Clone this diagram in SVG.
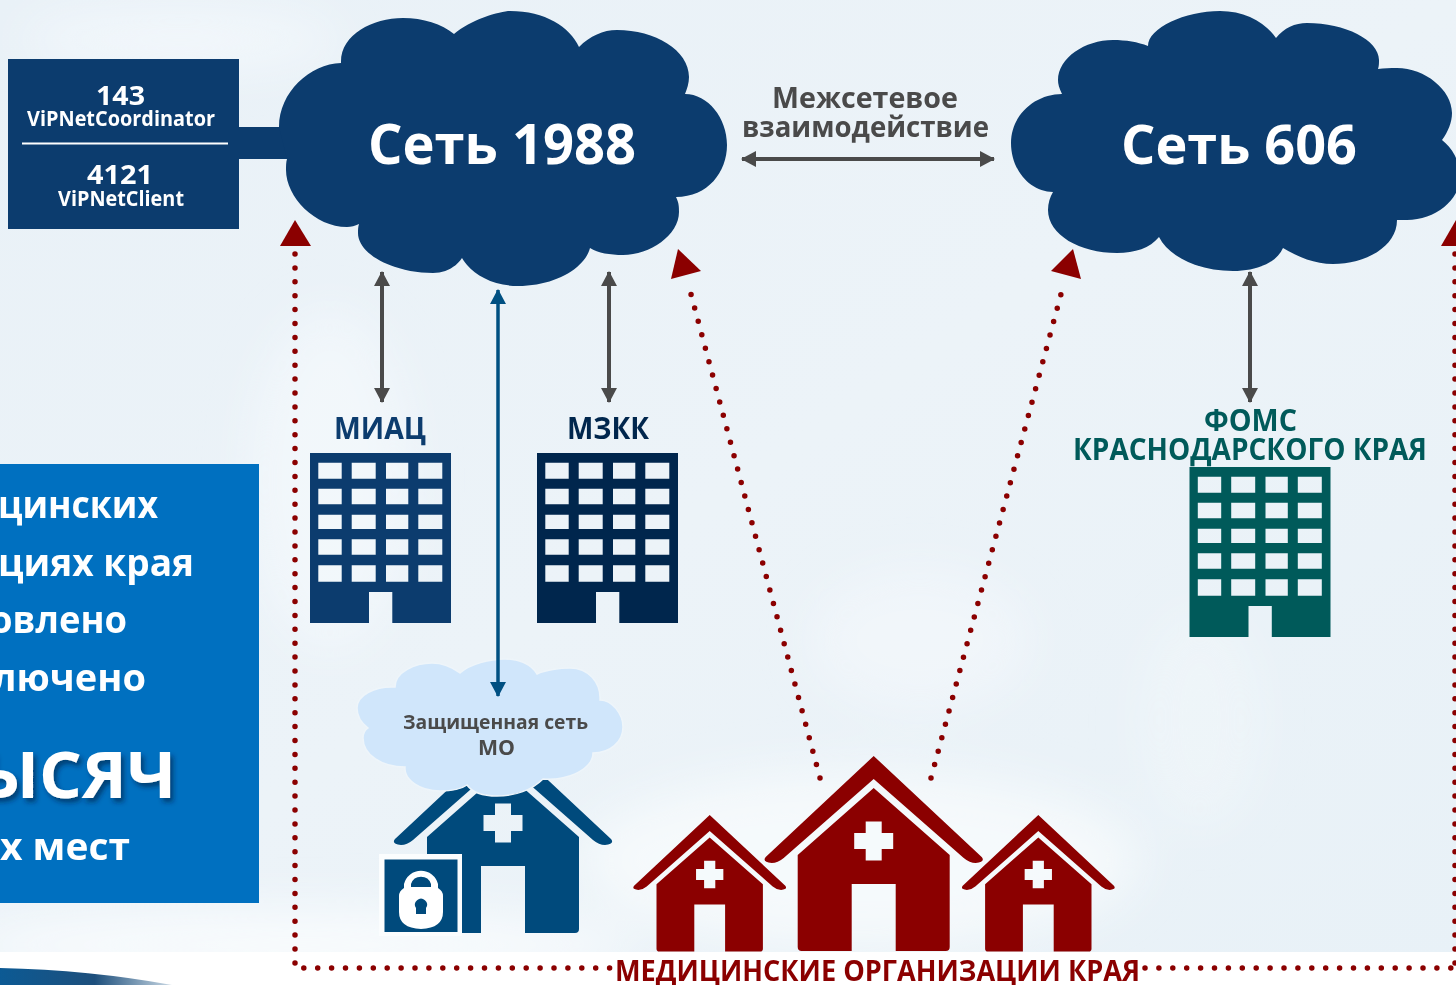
<svg xmlns="http://www.w3.org/2000/svg" width="1456" height="985" viewBox="0 0 1456 985">
<style>
text{font-family:"Open Sans","Noto Sans","Liberation Sans",sans-serif;font-weight:700}
.c{text-anchor:middle}
.w{fill:#fff}
.g{fill:#4a4a4a}
.navy{fill:#0c3c6e}
.red{fill:#8b0000}
.teal{fill:#005a5a}
.dot{fill:none;stroke:#8b0000;stroke-width:5.5;stroke-linecap:round;stroke-dasharray:0 13.9}
.dbl{fill:none;stroke:#4a4a4a;stroke-width:4;marker-start:url(#ga);marker-end:url(#ga)}
</style>
<defs>
<linearGradient id="bg" x1="0" y1="0" x2="1" y2="1"><stop offset="0" stop-color="#e9f1f7"/><stop offset=".5" stop-color="#ecf3f8"/><stop offset="1" stop-color="#e8f1f7"/></linearGradient>
<linearGradient id="sw" x1="0" x2="1" y1="0" y2="0"><stop offset="0" stop-color="#0c5a94"/><stop offset=".55" stop-color="#1d4f7c"/><stop offset="1" stop-color="#c9d8e4"/></linearGradient>
<filter id="b" x="-30%" y="-30%" width="160%" height="160%"><feGaussianBlur stdDeviation="24"/></filter>
<filter id="ts" x="-10%" y="-20%" width="125%" height="150%"><feDropShadow dx="3" dy="4" stdDeviation="2.500" flood-color="#06233f" flood-opacity=".6"/></filter>
<marker id="ga" markerUnits="userSpaceOnUse" markerWidth="17" markerHeight="16" refX="14" refY="8" orient="auto-start-reverse"><path d="M0,0L15,8L0,16z" fill="#4a4a4a"/></marker>
<marker id="ba" markerUnits="userSpaceOnUse" markerWidth="17" markerHeight="16" refX="14" refY="8" orient="auto-start-reverse"><path d="M0,0L15,8L0,16z" fill="#005082"/></marker>
<path id="bld" fill-rule="evenodd" d="M0,0H141V170H82.3V139H59V170H0Z
M8.3,9.7v16h23.4v-16zM41.7,9.7v16h24v-16zM76,9.7v16h22.3v-16zM108.3,9.7v16h24v-16z
M8.3,35.7v15.6h23.4v-15.6zM41.7,35.7v15.6h24v-15.6zM76,35.7v15.6h22.3v-15.6zM108.3,35.7v15.6h24v-15.6z
M8.3,61.7v14.3h23.4v-14.3zM41.7,61.7v14.3h24v-14.3zM76,61.7v14.3h22.3v-14.3zM108.3,61.7v14.3h24v-14.3z
M8.3,86.3v15.4h23.4v-15.4zM41.7,86.3v15.4h24v-15.4zM76,86.3v15.4h22.3v-15.4zM108.3,86.3v15.4h24v-15.4z
M8.3,112.3v16.4h23.4v-16.4zM41.7,112.3v16.4h24v-16.4zM76,112.3v16.4h22.3v-16.4zM108.3,112.3v16.4h24v-16.4z"/>
<path id="house" fill-rule="evenodd" d="M0,0L108,101Q112,106 102,107Q96,107 90,102L0,23L-90,102Q-96,107 -102,107Q-112,106 -108,101Z
M0,32L76,99V191Q76,195 72,195H22V128H-22V195H-72Q-76,195 -76,191V99Z
M-8,65.5V77H-19.5V93H-8V104.5H8V93H19.5V77H8V65.5Z"/>
</defs>
<g id="background">
<rect width="1456" height="985" fill="url(#bg)"/>
<g filter="url(#b)" fill="#f8fbfd">
<ellipse cx="860" cy="860" rx="280" ry="90" opacity=".8"/>
<ellipse cx="920" cy="640" rx="110" ry="70" opacity=".45"/>
<ellipse cx="330" cy="480" rx="80" ry="170" opacity=".55"/>
<ellipse cx="180" cy="40" rx="160" ry="30" opacity=".6"/>
<ellipse cx="300" cy="945" rx="340" ry="35"/>
<ellipse cx="1200" cy="720" rx="60" ry="110" opacity=".3"/>
</g>
<rect x="0" y="952" width="1456" height="33" fill="#fff"/>
<path d="M0,968Q90,970 172,985H0Z" fill="url(#sw)"/>
</g>
<g id="node-stats">
<rect x="8" y="59" width="231" height="170" fill="#0c3c6e"/>
<rect x="239" y="127" width="55" height="32" fill="#0c3c6e"/>
<path d="M22,143.500H228" stroke="#fff" stroke-width="2"/>
<text class="w c" x="120.500" y="105" font-size="27" textLength="49" lengthAdjust="spacingAndGlyphs">143</text>
<text class="w c" x="121" y="126" font-size="21" textLength="188" lengthAdjust="spacingAndGlyphs">ViPNetCoordinator</text>
<text class="w c" x="120" y="184" font-size="27" textLength="66" lengthAdjust="spacingAndGlyphs">4121</text>
<text class="w c" x="121" y="206" font-size="21" textLength="126" lengthAdjust="spacingAndGlyphs">ViPNetClient</text>
</g>
<g id="node-cloud-1988">
<path class="navy" d="M341,63C340,35 372,18 403,18C423,18 442,24 454,34C470,20 500,11 510,11C545,11 570,27 579,47C590,36 603,30 617,30C655,30 689,50 689,77C689,83 687,89 685,94C708,94 727,118 727,145C727,172 708,197 676,197C679,203 679,207 679,212C679,235 650,255 623,255C610,255 598,253 590,248C585,268 555,286 518,286C490,286 470,272 462,258C455,268 445,273 433,273C395,273 358,255 358,233C358,230 358,227 359,224C355,226 351,227 347,227C315,227 286,197 286,170C286,166 286,162 287,159L279,127C279,92 310,64 341,63Z"/>
<text class="w c" x="502" y="164" font-size="56" textLength="268" lengthAdjust="spacingAndGlyphs">Сеть 1988</text>
</g>
<g id="node-cloud-606">
<path class="navy" d="M1062,94C1059,88 1058,84 1058,80C1058,58 1085,40 1113,40C1126,40 1138,42 1148,46C1148,28 1185,11 1220,11C1245,11 1265,22 1276,38C1284,28 1295,23 1307,23C1345,23 1379,40 1379,60C1379,63 1379,66 1378,69C1384,68 1390,68 1397,68C1425,68 1452,90 1452,113C1452,122 1448,132 1442,140C1452,148 1460,160 1460,177C1460,200 1435,220 1407,220C1403,220 1400,220 1397,220C1397,247 1365,264 1333,264C1315,264 1298,257 1283,248C1277,262 1258,271 1233,271C1200,271 1170,258 1159,237C1150,248 1135,253 1117,253C1080,253 1048,235 1048,210C1048,203 1050,197 1053,192C1030,192 1011,170 1011,143C1011,115 1035,94 1062,94Z"/>
<text class="w c" x="1239" y="164" font-size="53" textLength="236" lengthAdjust="spacingAndGlyphs">Сеть 606</text>
</g>
<g id="label-link">
<text class="g c" x="865" y="108" font-size="29" textLength="186" lengthAdjust="spacingAndGlyphs">Межсетевое</text>
<text class="g c" x="865.500" y="137" font-size="29" textLength="247" lengthAdjust="spacingAndGlyphs">взаимодействие</text>
</g>
<g id="node-miac">
<text class="navy c" x="380" y="439" font-size="30" textLength="92" lengthAdjust="spacingAndGlyphs">МИАЦ</text>
<use href="#bld" x="310" y="453" fill="#0c3c6e"/>
</g>
<g id="node-mzkk">
<text class="c" fill="#00264d" x="608" y="439" font-size="30" textLength="82" lengthAdjust="spacingAndGlyphs">МЗКК</text>
<use href="#bld" x="537" y="453" fill="#00264d"/>
</g>
<g id="node-foms">
<text class="teal c" x="1250.500" y="431" font-size="30" textLength="93" lengthAdjust="spacingAndGlyphs">ФОМС</text>
<text class="teal c" x="1250" y="460" font-size="30" textLength="354" lengthAdjust="spacingAndGlyphs">КРАСНОДАРСКОГО КРАЯ</text>
<use href="#bld" x="1189.500" y="467" fill="#005a5a"/>
</g>
<g id="node-info">
<rect x="0" y="464" width="259" height="439" fill="#0070c0"/>
<text class="w" x="-2" y="518" font-size="38" textLength="160" lengthAdjust="spacingAndGlyphs">цинских</text>
<text class="w" x="-2" y="576" font-size="38" textLength="196" lengthAdjust="spacingAndGlyphs">циях края</text>
<text class="w" x="-10" y="633" font-size="38" textLength="137" lengthAdjust="spacingAndGlyphs">овлено</text>
<text class="w" x="-8" y="691" font-size="38" textLength="154" lengthAdjust="spacingAndGlyphs">лючено</text>
<text class="w" x="-22" y="798" font-size="64" textLength="198" lengthAdjust="spacingAndGlyphs" filter="url(#ts)">ЫСЯЧ</text>
<text class="w" x="0" y="860" font-size="38" textLength="130" lengthAdjust="spacingAndGlyphs">х мест</text>
</g>
<g id="node-mo">
<use href="#house" x="503" y="738" fill="#004a7c"/>
<rect x="379" y="854" width="83" height="82" fill="#fbfdfe"/>
<rect x="384.500" y="859.500" width="73" height="72.500" fill="#004a7c"/>
<path fill="#fff" fill-rule="evenodd" d="M404,888V884a17.500,17.500 0 0 1 34,0V888Q443,891 443,896V912Q443,928 421,929Q399,928 399,912V896Q399,891 404,888ZM411,887H431V884a10.500,10.500 0 0 0 -20,0ZM416,914H426V908A6,6 0 1 0 416,908Z"/>
<path fill="#d0e6fb" stroke="#eef5fa" stroke-width="1.500" d="M395,687C395,672 415,663 432,663C442,663 452,667 460,673C470,664 490,659 505,659C520,659 532,665 537,674C545,670 560,668 570,668C588,668 601,682 600,700C612,700 623,714 623,727C623,742 610,753 593,753C593,768 570,781 543,779C532,790 515,796 497,796C483,796 472,792 467,785C460,790 450,791 440,791C420,791 404,780 405,767C382,767 363,755 363,738C363,733 365,730 368,728C360,722 357,715 357,708C357,695 375,686 395,687Z"/>
<text class="g c" x="495.500" y="729" font-size="19" textLength="185" lengthAdjust="spacingAndGlyphs">Защищенная сеть</text>
<text class="g c" x="496.500" y="755" font-size="21" textLength="37" lengthAdjust="spacingAndGlyphs">МО</text>
</g>
<g id="node-hospitals" fill="#8b0000">
<use href="#house" x="873.700" y="756"/>
<use href="#house" transform="translate(709.700 815) scale(.7)"/>
<use href="#house" transform="translate(1038.300 815) scale(.7)"/>
<text class="red c" x="877.500" y="981" font-size="28" textLength="525" lengthAdjust="spacingAndGlyphs">МЕДИЦИНСКИЕ ОРГАНИЗАЦИИ КРАЯ</text>
</g>
<g id="connectors">
<path class="dot" d="M295,254V968H612"/>
<path class="dot" d="M1145,968H1456"/>
<path class="dot" d="M1455,254V968"/>
<path class="dot" d="M820,778L688,283"/>
<path class="dot" d="M931,778L1064,283"/>
<path class="red" d="M295,220L311,246H280Z"/>
<path class="red" d="M1456,220V246H1441Z"/>
<path class="red" d="M678,249L701,271L671,279Z"/>
<path class="red" d="M1073,249L1081,279L1051,271Z"/>
<path class="dbl" d="M382,272V402"/>
<path class="dbl" d="M609,272V402"/>
<path class="dbl" d="M1250,272V402"/>
<path class="dbl" d="M742,159H994"/>
<path d="M498,290V696" fill="none" stroke="#005082" stroke-width="3.500" marker-start="url(#ba)" marker-end="url(#ba)"/>
</g>
</svg>
